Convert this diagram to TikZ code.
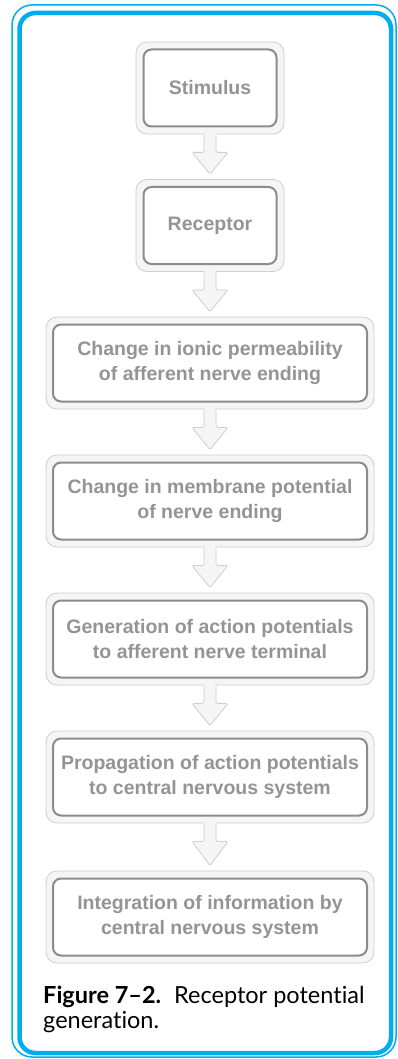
\documentclass[tikz,border=0pt]{standalone}
\usepackage{fontspec}
\setmainfont{Liberation Sans}
\newfontfamily\capfont[Ligatures=NoCommon]{Lato}
\usetikzlibrary{calc}
\definecolor{frameblue}{RGB}{0,174,239}
\definecolor{boxfill}{RGB}{245,245,245}
\definecolor{boxedge}{RGB}{206,206,206}
\definecolor{inneredge}{RGB}{140,140,140}
\definecolor{txtgray}{RGB}{148,148,148}
\tikzset{
  outerbox/.style={draw=boxedge, fill=boxfill, line width=0.8pt, rounded corners=11pt,
    minimum height=92pt, inner sep=0pt},
  innerbox/.style={draw=inneredge, fill=white, line width=2pt, rounded corners=8pt,
    minimum height=77pt, inner sep=0pt, align=center,
    font=\fontsize{19.5}{25}\selectfont\bfseries, text=txtgray},
  smallw/.style={minimum width=148pt},
  smallin/.style={minimum width=133pt},
  widew/.style={minimum width=328pt},
  widein/.style={minimum width=314pt},
  arrfill/.style={fill=boxfill, rounded corners=1.5pt},
  arrline/.style={draw=boxedge, line width=0.8pt, rounded corners=1.5pt},
  captext/.style={font=\capfont\fontsize{23.5}{25}\selectfont, inner sep=0pt, anchor=base west},
}
\newcommand\flowarr[2]{%
  \fill[arrfill] ($(#1.south)+(-6,-1.5)$) -- ($(#1.south)+(-6,18)$) -- ($(#1.south)+(-18,18)$)
    -- ($(#2.north)+(0,-5)$) -- ($(#1.south)+(18,18)$) -- ($(#1.south)+(6,18)$)
    -- ($(#1.south)+(6,-1.5)$) -- cycle;
  \draw[arrline] ($(#1.south)+(-6,0.4)$) -- ($(#1.south)+(-6,18)$) -- ($(#1.south)+(-18,18)$)
    -- ($(#2.north)+(0,-5)$) -- ($(#1.south)+(18,18)$) -- ($(#1.south)+(6,18)$)
    -- ($(#1.south)+(6,0.4)$);
}
\begin{document}
\begin{tikzpicture}[x=1pt,y=-1pt]
\useasboundingbox (0,0) rectangle (397,1059);
\fill[white] (0,0) rectangle (397,1059);
\draw[frameblue, line width=1.5pt, rounded corners=20pt] (12,5) rectangle (396,1057);
\draw[frameblue, line width=4.5pt, rounded corners=16pt] (19.5,13) rectangle (391,1053);

\node[outerbox, smallw] (o1) at (210,88) {};
\node[innerbox, smallin] (i1) at (o1.center) {Stimulus};
\node[outerbox, smallw] (o2) at (210,225.5) {};
\node[innerbox, smallin] (i2) at (o2.center) {Receptor};
\node[outerbox, widew] (o3) at (210,363) {};
\node[innerbox, widein] (i3) at (o3.center) {Change in ionic permeability\\of afferent nerve ending};
\node[outerbox, widew] (o4) at (210,501) {};
\node[innerbox, widein] (i4) at (o4.center) {Change in membrane potential\\of nerve ending};
\node[outerbox, widew] (o5) at (210,639) {};
\node[innerbox, widein] (i5) at (o5.center) {Generation of action potentials\\to afferent nerve terminal};
\node[outerbox, widew] (o6) at (210,777) {};
\node[innerbox, widein] (i6) at (o6.center) {Propagation of action potentials\\to central nervous system};
\node[outerbox, widew] (o7) at (210,917) {};
\node[innerbox, widein] (i7) at (o7.center) {Integration of information by\\central nervous system};

\flowarr{o1}{o2}
\flowarr{o2}{o3}
\flowarr{o3}{o4}
\flowarr{o4}{o5}
\flowarr{o5}{o6}
\flowarr{o6}{o7}

\node[captext] (cap1) at (43,1003) {\textbf{Figure 7–2.}\hspace{0.55em}Receptor potential};
\node[captext] (cap2) at (43,1028) {generation.};
\end{tikzpicture}
\end{document}
